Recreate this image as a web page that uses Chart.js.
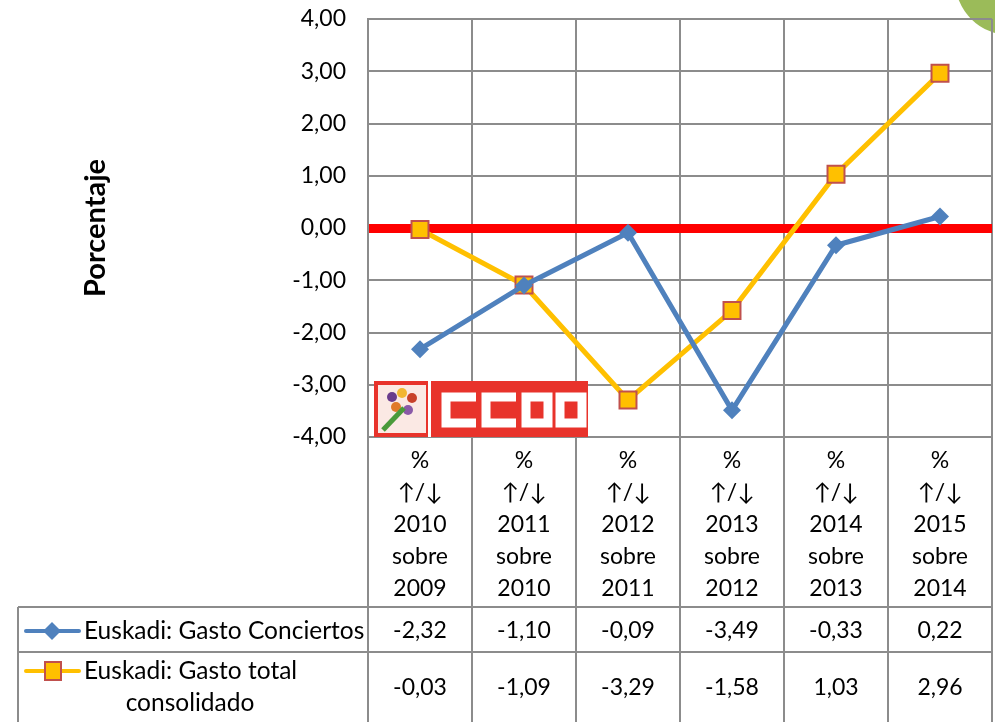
<!DOCTYPE html>
<html>
<head>
<meta charset="utf-8">
<script src="https://cdn.jsdelivr.net/npm/chart.js@4/dist/chart.umd.min.js"></script>
<style>
  html, body { margin: 0; padding: 0; background: #fff; }
  #wrap { width: 995px; height: 722px; position: relative; }
</style>
</head>
<body>
<div id="wrap"><canvas id="chart" width="995" height="722"></canvas></div>
<script>
// Data
const categories = [
    ['%', '↑/↓', '2010', 'sobre', '2009'],
    ['%', '↑/↓', '2011', 'sobre', '2010'],
    ['%', '↑/↓', '2012', 'sobre', '2011'],
    ['%', '↑/↓', '2013', 'sobre', '2012'],
    ['%', '↑/↓', '2014', 'sobre', '2013'],
    ['%', '↑/↓', '2015', 'sobre', '2014']
];
const gastoConciertos = [-2.32, -1.10, -0.09, -3.49, -0.33, 0.22];
const gastoTotal = [-0.03, -1.09, -3.29, -1.58, 1.03, 2.96];
const seriesNames = ['Euskadi: Gasto Conciertos', ['Euskadi: Gasto total', 'consolidado']];
const yTicks = [-4, -3, -2, -1, 0, 1, 2, 3, 4];

const FONT = "Lato, 'Open Sans', sans-serif";
const GRID = '#8c8c8c';
const BLUE = '#4f81bd';
const ORANGE = '#ffc000';

const fmt = (v) => v.toFixed(2).replace('.', ',');

// Decorations: green circle + logo
const decoPlugin = {
    id: 'deco',
    beforeDraw(chart) {
        const ctx = chart.ctx;
        ctx.save();
        ctx.fillStyle = '#9bbb59';
        ctx.beginPath();
        ctx.arc(1010, -20, 55, 0, Math.PI * 2);
        ctx.fill();
        ctx.restore();
    },
    beforeDatasetsDraw(chart) {
        const ctx = chart.ctx;
        ctx.save();
        // logo
        ctx.fillStyle = '#e8332b';
        ctx.fillRect(374, 381, 214, 56);
        ctx.fillStyle = '#fbe9e4';
        ctx.fillRect(378, 385, 48, 48);
        ctx.fillStyle = '#fff';
        ctx.fillRect(428, 381, 3, 56);
        // flowers
        const dots = [[392, 397, '#6a3c8c'], [402, 393, '#f2b632'], [412, 398, '#c8412a'], [396, 407, '#e07a2a'], [408, 410, '#8a5aa8']];
        dots.forEach(d => { ctx.fillStyle = d[2]; ctx.beginPath(); ctx.arc(d[0], d[1], 5, 0, Math.PI * 2); ctx.fill(); });
        ctx.strokeStyle = '#4a9a3a';
        ctx.lineWidth = 5;
        ctx.beginPath(); ctx.moveTo(383, 430); ctx.lineTo(404, 408); ctx.stroke();
        // letters
        ctx.strokeStyle = '#fff';
        ctx.lineWidth = 9;
        const lx = [446, 486, 526, 560];
        lx.forEach((x, i) => {
            ctx.beginPath();
            if (i < 2) {
                ctx.moveTo(x + 30, 397); ctx.lineTo(x, 397); ctx.lineTo(x, 423); ctx.lineTo(x + 30, 423);
            } else {
                ctx.rect(x, 397, 22, 26);
            }
            ctx.stroke();
        });
        ctx.restore();
    }
};

// Data table under the plot
const tablePlugin = {
    id: 'dataTable',
    afterDraw(chart) {
        const ctx = chart.ctx;
        const x = chart.scales.x;
        const area = chart.chartArea;
        const n = categories.length;
        const w = (x.right - x.left) / n;
        const rowTop = 607, rowMid = 652, rowBot = 722;
        const tableLeft = 18;
        ctx.save();
        ctx.strokeStyle = GRID;
        ctx.lineWidth = 2;
        // vertical lines
        for (let i = 0; i <= n; i++) {
            const px = Math.round(x.left + i * w);
            ctx.beginPath(); ctx.moveTo(px, area.bottom); ctx.lineTo(px, rowBot); ctx.stroke();
        }
        ctx.beginPath(); ctx.moveTo(tableLeft, rowTop); ctx.lineTo(tableLeft, rowBot); ctx.stroke();
        [rowTop, rowMid].forEach(py => {
            ctx.beginPath(); ctx.moveTo(tableLeft, py); ctx.lineTo(x.right, py); ctx.stroke();
        });
        // header text
        ctx.fillStyle = '#000';
        ctx.font = '23px ' + FONT;
        ctx.textAlign = 'center';
        ctx.textBaseline = 'middle';
        categories.forEach((lines, i) => {
            const cx = x.getPixelForValue(i);
            lines.forEach((t, j) => ctx.fillText(t, cx, 461 + j * 32));
            ctx.fillText(fmt(gastoConciertos[i]), cx, 631);
            ctx.fillText(fmt(gastoTotal[i]), cx, 688);
        });
        // legend keys
        const drawKey = (y, color, style) => {
            ctx.strokeStyle = color;
            ctx.lineWidth = 4;
            ctx.lineCap = 'round';
            ctx.beginPath(); ctx.moveTo(26, y); ctx.lineTo(79, y); ctx.stroke();
            if (style === 'diamond') {
                ctx.fillStyle = color;
                ctx.beginPath();
                ctx.moveTo(52, y - 9); ctx.lineTo(61, y); ctx.lineTo(52, y + 9); ctx.lineTo(43, y);
                ctx.closePath(); ctx.fill();
            } else {
                ctx.fillStyle = ORANGE;
                ctx.strokeStyle = '#c0504d';
                ctx.lineWidth = 2;
                ctx.fillRect(45, y - 9, 16, 18);
                ctx.strokeRect(45, y - 9, 16, 18);
            }
        };
        drawKey(631, BLUE, 'diamond');
        drawKey(671, ORANGE, 'square');
        ctx.fillStyle = '#000';
        ctx.font = '24.5px ' + FONT;
        ctx.textAlign = 'left';
        ctx.fillText(seriesNames[0], 84, 631);
        ctx.fillText(seriesNames[1][0], 84, 671);
        ctx.textAlign = 'center';
        ctx.fillText(seriesNames[1][1], 190, 703);
        ctx.restore();
    }
};

const ctx = document.getElementById('chart').getContext('2d');
new Chart(ctx, {
    type: 'line',
    data: {
        labels: categories,
        datasets: [{
            label: 'Euskadi: Gasto Conciertos',
            data: gastoConciertos,
            borderColor: BLUE,
            backgroundColor: BLUE,
            borderWidth: 5,
            pointStyle: 'rectRot',
            pointRadius: 9,
            pointBorderWidth: 0,
            tension: 0
        }, {
            label: 'Euskadi: Gasto total consolidado',
            data: gastoTotal,
            borderColor: ORANGE,
            backgroundColor: ORANGE,
            borderWidth: 5,
            pointStyle: 'rect',
            pointRadius: 12,
            pointBorderColor: '#c0504d',
            pointBorderWidth: 2,
            tension: 0
        }]
    },
    options: {
        responsive: false,
        animation: false,
        layout: { autoPadding: false, padding: { top: 19, right: 3, left: 0, bottom: 0 } },
        plugins: {
            legend: { display: false },
            tooltip: { enabled: false }
        },
        scales: {
            x: {
                offset: true,
                grid: { offset: true, color: GRID, lineWidth: 2, drawTicks: false },
                border: { color: GRID, width: 2 },
                ticks: { display: false },
                afterFit: (s) => { s.height = 722 - 437; }
            },
            y: {
                min: -4,
                max: 4,
                afterBuildTicks: (s) => { s.ticks = yTicks.map(v => ({ value: v })); },
                grid: {
                    drawTicks: false,
                    color: (c) => c.tick && c.tick.value === 0 ? '#ff0000' : GRID,
                    lineWidth: (c) => c.tick && c.tick.value === 0 ? 9 : 2
                },
                border: { color: GRID, width: 2 },
                ticks: {
                    padding: 22,
                    color: '#000',
                    font: { family: FONT, size: 23 },
                    callback: (v) => fmt(v)
                },
                title: {
                    display: true,
                    text: 'Porcentaje',
                    color: '#000',
                    font: { family: FONT, size: 29, weight: 'bold' },
                    padding: { top: 78, bottom: 0 }
                },
                afterFit: (s) => { s.width = 368; s.paddingTop = 0; s.paddingBottom = 0; }
            }
        }
    },
    plugins: [decoPlugin, tablePlugin]
});
</script>
</body>
</html>
